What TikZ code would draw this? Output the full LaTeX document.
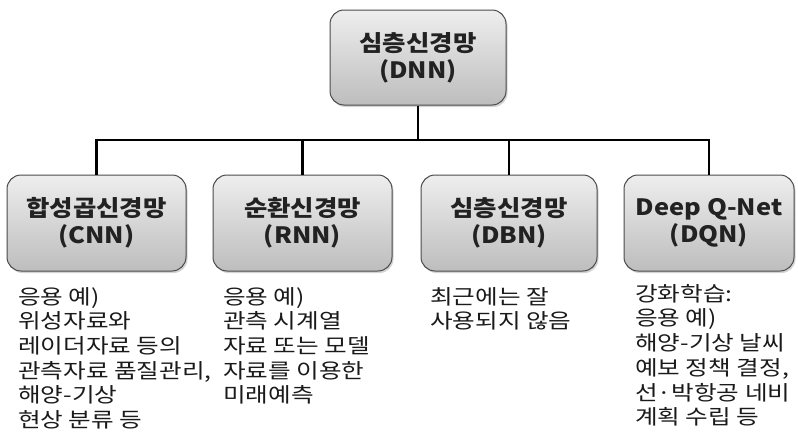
\documentclass[tikz,border=0pt]{standalone}
\usepackage{fontspec}
\setmainfont{Noto Sans CJK KR}
\newfontfamily\bodyfont[FakeStretch=1.2]{Noto Sans CJK KR}
\newfontfamily\titlefont[FakeStretch=1.13]{Noto Sans CJK KR}
\usetikzlibrary{shadows}
\definecolor{boxtop}{HTML}{EEEEEE}
\definecolor{boxbot}{HTML}{BDBDBD}
\definecolor{boxline}{HTML}{4A4A4A}
\definecolor{titletext}{HTML}{222222}
\definecolor{bodytext}{HTML}{1A1A1A}
\tikzset{
  catbox/.style={draw=boxline, line width=1pt, rounded corners=14pt,
    top color=boxtop, bottom color=boxbot,
    drop shadow={opacity=0.35, shadow xshift=1.5pt, shadow yshift=-2pt},
    align=center, text=titletext, inner sep=0pt,
    font=\titlefont\fontsize{22.5}{27}\selectfont\bfseries},
  conn/.style={line width=2.8pt, black},
  note/.style={anchor=north west, align=left, inner sep=0pt, text=bodytext,
    font=\bodyfont\fontsize{20.5}{24.7}\selectfont}
}
\begin{document}
\begin{tikzpicture}[x=1pt, y=-1pt]
\useasboundingbox (0,0) rectangle (798,439);

% category boxes
\node[catbox, minimum width=176pt, minimum height=95pt] (top) at (418,57.5) {심층신경망\\(DNN)};
\node[catbox, minimum width=179pt, minimum height=96pt] (cnn) at (96.5,223) {합성곱신경망\\(CNN)};
\node[catbox, minimum width=179pt, minimum height=96pt] (rnn) at (302.5,223) {순환신경망\\(RNN)};
\node[catbox, minimum width=176pt, minimum height=96pt] (dbn) at (509,223) {심층신경망\\(DBN)};
\node[catbox, minimum width=170pt, minimum height=96pt] (dqn) at (709,223) {Deep Q-Net\\(DQN)};

% tree connectors
\coordinate (jn) at (418,140);
\draw[conn] (top.south) -- (jn);
\draw[conn] (cnn.north) |- (jn) -| (dqn.north);
\draw[conn] (rnn.north) -- (rnn.north |- jn);
\draw[conn] (dbn.north) -- (dbn.north |- jn);

% descriptions
\node[note] (cnntxt) at (18,287) {응용 예)\\위성자료와\\레이더자료 등의\\관측자료 품질관리,\\해양-기상\\현상 분류 등};
\node[note] (rnntxt) at (223,287) {응용 예)\\관측 시계열\\자료 또는 모델\\자료를 이용한\\미래예측};
\node[note] (dbntxt) at (430,287) {최근에는 잘\\사용되지 않음};
\node[note] (dqntxt) at (635,284) {강화학습:\\응용 예)\\해양-기상 날씨\\예보 정책 결정,\\선·박항공 네비\\계획 수립 등};
\end{tikzpicture}
\end{document}
